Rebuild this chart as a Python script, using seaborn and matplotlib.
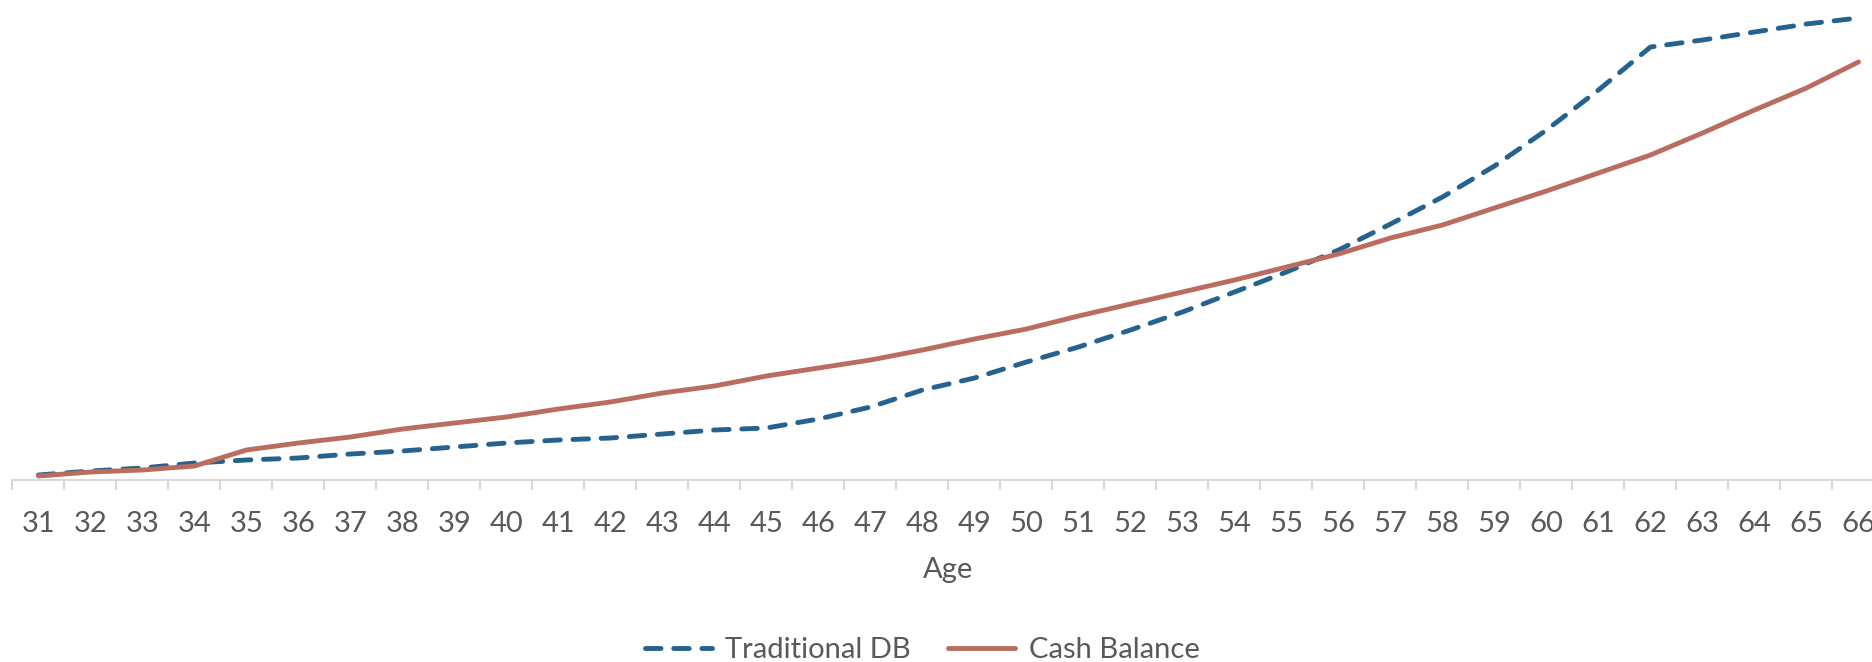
import matplotlib
matplotlib.use("Agg")
import matplotlib.pyplot as plt
import seaborn as sns
import pandas as pd
import numpy as np

# Projected benefit value by age
ages = list(range(31, 67))
traditional_db = [5, 9, 12, 17, 20, 22, 26, 29, 33, 37, 40, 42, 46, 50, 52, 61,
                  73, 90, 102, 118, 133, 150, 168, 188, 208, 230, 256, 283, 314,
                  350, 390, 433, 440, 448, 456, 462]
cash_balance = [4, 8, 10, 14, 30, 37, 43, 51, 57, 63, 71, 78, 87, 94, 104, 112,
                120, 130, 141, 151, 164, 176, 188, 200, 213, 226, 242, 255, 272,
                289, 307, 325, 347, 370, 392, 418]
series_names = ["Traditional DB", "Cash Balance"]

BLUE = "#25628F"
RED = "#BA6C5F"
GRID = "#D9D9D9"
TEXT = "#595959"

sns.set_theme(style="white")
plt.rcParams["font.family"] = ["Lato", "DejaVu Sans"]

df = pd.DataFrame({"Age": ages,
                   series_names[0]: traditional_db,
                   series_names[1]: cash_balance})

W, H, DPI = 1872, 662, 100
fig = plt.figure(figsize=(W / DPI, H / DPI), dpi=DPI)
# category axis runs slightly past the right edge of the figure
ax = fig.add_axes([12.5 / W, 182 / H, 1872 / W, 480 / H])

lw = 3.5
sns.lineplot(data=df, x="Age", y=series_names[0], ax=ax, color=BLUE,
             linewidth=lw, label=series_names[0], legend=False)
sns.lineplot(data=df, x="Age", y=series_names[1], ax=ax, color=RED,
             linewidth=lw, label=series_names[1], legend=False)

db_line, cb_line = ax.lines[0], ax.lines[1]
db_line.set_dashes((3.2, 2.6))
db_line.set_dash_capstyle("round")
cb_line.set_solid_capstyle("round")
for ln in ax.lines:
    ln.set_clip_on(False)

ax.set_xlim(ages[0] - 0.5, ages[-1] + 0.5)
ax.set_ylim(0, 480)

for side in ["top", "right", "left"]:
    ax.spines[side].set_visible(False)
ax.spines["bottom"].set_color(GRID)
ax.spines["bottom"].set_linewidth(1.5)

ax.set_yticks([])
ax.set_xticks(ages)
ax.set_xticklabels([str(a) for a in ages])
ax.set_xticks(np.arange(ages[0] - 0.5, ages[-1] + 1.0, 1.0), minor=True)
ax.tick_params(axis="x", which="major", length=0, pad=22, labelsize=21,
               labelcolor=TEXT)
ax.tick_params(axis="x", which="minor", length=7.5, width=1.5, color=GRID,
               direction="out", bottom=True)
ax.set_ylabel("")
ax.set_xlabel("Age", fontsize=21, color=TEXT, labelpad=15)

handles = [db_line, cb_line]
fig.legend(handles, series_names, loc="center", bbox_to_anchor=(922 / W, 1 - 650 / H),
           ncol=2, frameon=False, fontsize=21, handlelength=2.3,
           handletextpad=0.45, columnspacing=1.3, labelcolor=TEXT)

fig.savefig("out.png", dpi=DPI, facecolor="white")
